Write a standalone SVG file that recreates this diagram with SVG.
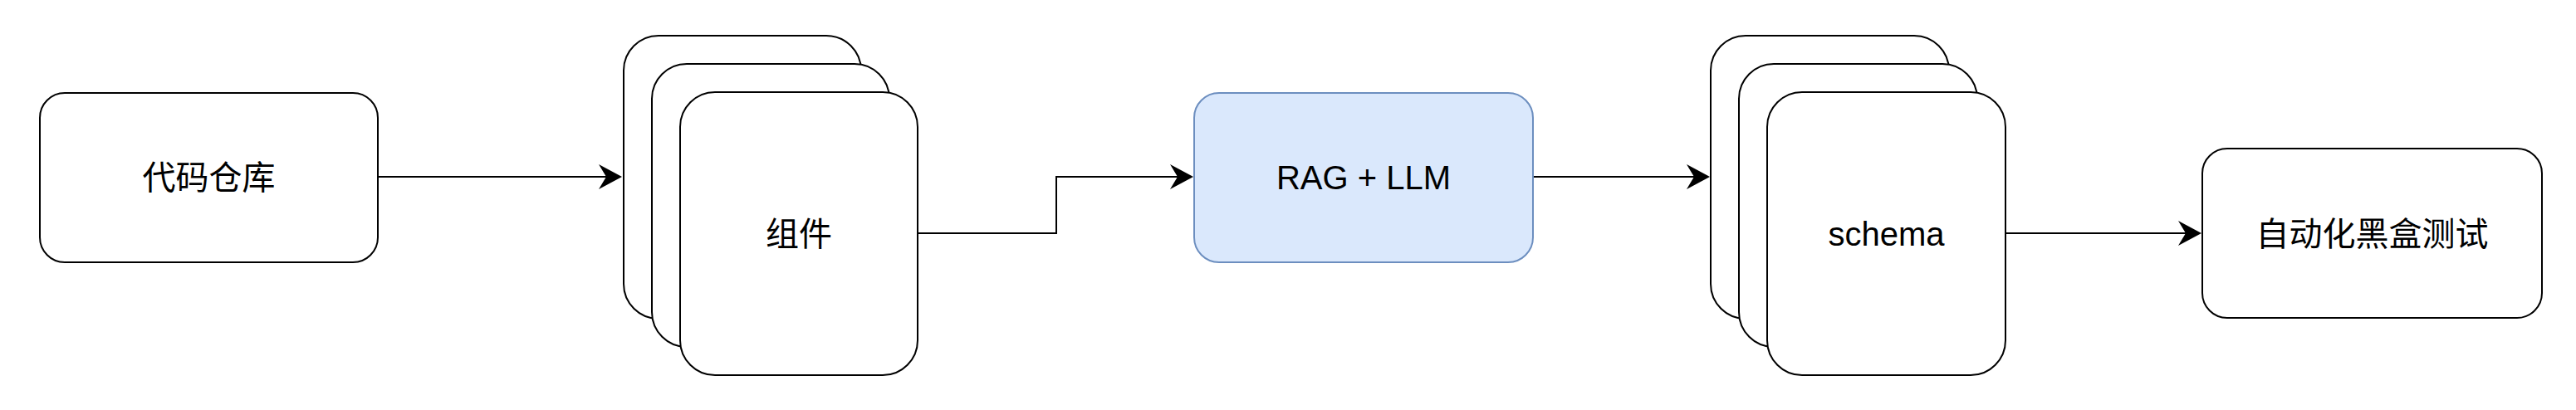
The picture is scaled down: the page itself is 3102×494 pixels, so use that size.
<svg xmlns="http://www.w3.org/2000/svg" width="3102" height="494" viewBox="0 0 3102 494">
<style>
.box{fill:#ffffff;stroke:#000000;stroke-width:2}
.blue{fill:#dae8fc;stroke:#6c8ebf;stroke-width:2}
.lbl{font-family:"Liberation Sans","Noto Sans CJK SC",sans-serif;font-size:40px;fill:#000000;text-anchor:middle}
.edge{fill:none;stroke:#000000;stroke-width:2}
</style>
<defs>
<marker id="arr" markerUnits="userSpaceOnUse" markerWidth="30" markerHeight="30" viewBox="0 0 28 30" refX="18" refY="15" orient="auto">
<path d="M0,0 L28,15 L0,30 L9,15 Z" fill="#000000"/>
</marker>
</defs>
<rect width="3102" height="494" fill="#ffffff"/>
<g id="edges">
<path class="edge" d="M455,213 H739" marker-end="url(#arr)"/>
<path class="edge" d="M1105,281 H1272 V213 H1427" marker-end="url(#arr)"/>
<path class="edge" d="M1846,213 H2049" marker-end="url(#arr)"/>
<path class="edge" d="M2415,281 H2641" marker-end="url(#arr)"/>
</g>
<g id="repo">
<rect class="box" x="48" y="112" width="407" height="204" rx="30" ry="30"/>
<text class="lbl" x="251.5" y="228">代码仓库</text>
</g>
<g id="components">
<rect class="box" x="751" y="43" width="286" height="341" rx="42" ry="42"/>
<rect class="box" x="785" y="77" width="286" height="341" rx="42" ry="42"/>
<rect class="box" x="819" y="111" width="286" height="341" rx="42" ry="42"/>
<text class="lbl" x="962" y="296">组件</text>
</g>
<g id="rag">
<rect class="blue" x="1438" y="112" width="408" height="204" rx="30" ry="30"/>
<text class="lbl" x="1642" y="228">RAG + LLM</text>
</g>
<g id="schema">
<rect class="box" x="2060" y="43" width="287" height="341" rx="42" ry="42"/>
<rect class="box" x="2094" y="77" width="287" height="341" rx="42" ry="42"/>
<rect class="box" x="2128" y="111" width="287" height="341" rx="42" ry="42"/>
<text class="lbl" x="2271.5" y="296">schema</text>
</g>
<g id="blackbox">
<rect class="box" x="2652" y="179" width="409" height="204" rx="30" ry="30"/>
<text class="lbl" x="2856.5" y="296">自动化黑盒测试</text>
</g>
</svg>
